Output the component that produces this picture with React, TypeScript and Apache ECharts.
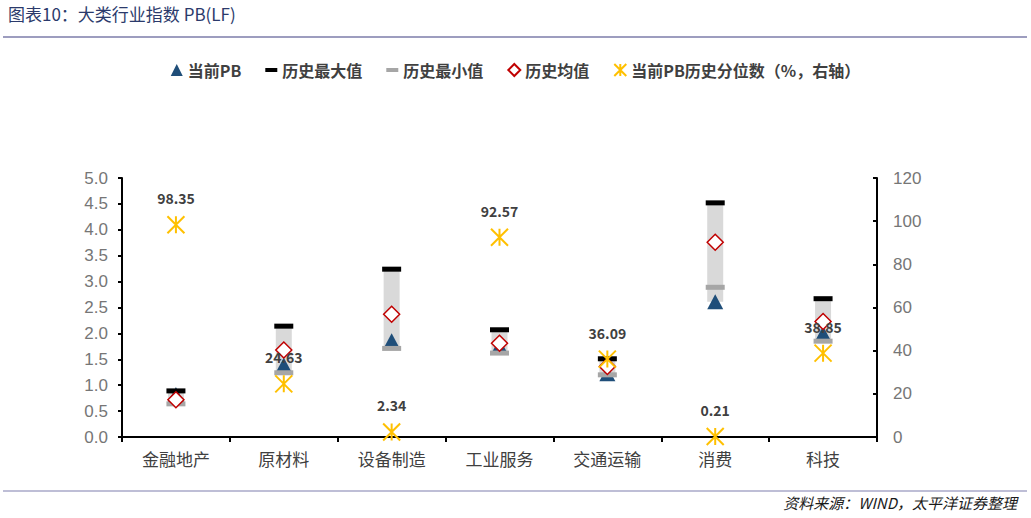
import React, { useEffect, useRef } from 'react';
import * as echarts from 'echarts';

const categories = ['金融地产', '原材料', '设备制造', '工业服务', '交通运输', '消费', '科技'];
const currentPB = [0.82, 1.39, 1.86, 1.76, 1.22, 2.61, 2.0];
const maxPB = [0.89, 2.14, 3.24, 2.07, 1.51, 4.52, 2.67];
const minPB = [0.64, 1.24, 1.71, 1.62, 1.2, 2.89, 1.85];
const meanPB = [0.72, 1.68, 2.37, 1.81, 1.36, 3.76, 2.23];
const percentile = [98.35, 24.63, 2.34, 92.57, 36.09, 0.21, 38.85];

const leftTicks = { min: 0, max: 5, interval: 0.5 };
const rightTicks = { min: 0, max: 120, interval: 20 };

const FONT = '"Noto Sans CJK SC", "Noto Sans", sans-serif';
const NUM_FONT = '"Liberation Sans", Arial, sans-serif';
const STAR = 'path://M0,0L20,20M20,0L0,20M10,0L10,20';
const DASH = 'path://M0,0M0,4h12v4h-12zM12,12';

const App: React.FC = () => {
  const chartRef = useRef<HTMLDivElement | null>(null);

  useEffect(() => {
    if (!chartRef.current) return;
    const chart = echarts.init(chartRef.current, null, { renderer: 'svg' });

    // gray range bar goes from the lowest of current/min up to the max
    const rangeLow = minPB.map((v, i) => Math.min(v, currentPB[i]));
    const rangeSpan = maxPB.map((v, i) => +(v - rangeLow[i]).toFixed(2));

    const option = {
      animation: false,
      backgroundColor: '#ffffff',
      textStyle: { fontFamily: FONT },
      graphic: [
        {
          type: 'text',
          left: 8,
          top: 5,
          style: { text: '图表10：大类行业指数 PB(LF)', fill: '#2b3a6b', fontSize: 17, fontFamily: FONT },
        },
        {
          type: 'line',
          shape: { x1: 3, y1: 37, x2: 1027, y2: 37 },
          style: { stroke: '#9d9dbf', lineWidth: 2 },
        },
        {
          type: 'line',
          shape: { x1: 3, y1: 491, x2: 1027, y2: 491 },
          style: { stroke: '#a8a8c8', lineWidth: 1.5 },
        },
        {
          type: 'text',
          right: 14,
          top: 495,
          style: {
            text: '资料来源：WIND，太平洋证券整理',
            fill: '#1a1a1a',
            fontSize: 15,
            fontStyle: 'italic',
            fontFamily: FONT,
          },
        },
      ],
      legend: {
        top: 57,
        left: 'center',
        itemWidth: 12,
        itemHeight: 12,
        itemGap: 24,
        textStyle: { color: '#404040', fontSize: 16, fontWeight: 'bold', fontFamily: FONT },
        data: [
          { name: '当前PB', icon: 'triangle' },
          { name: '历史最大值', icon: DASH },
          { name: '历史最小值', icon: DASH },
          { name: '历史均值', icon: 'diamond' },
          { name: '当前PB历史分位数（%，右轴）', icon: STAR },
        ],
      },
      grid: { left: 122, right: 154, top: 178, bottom: 81 },
      xAxis: {
        type: 'category',
        data: categories,
        axisLine: { lineStyle: { color: '#000', width: 2 } },
        axisTick: { show: true, length: 5, lineStyle: { color: '#000', width: 2 } },
        axisLabel: { color: '#404040', fontSize: 17, margin: 13, fontFamily: FONT },
      },
      yAxis: [
        {
          type: 'value',
          ...leftTicks,
          splitLine: { show: false },
          axisLine: { show: true, lineStyle: { color: '#000', width: 2 } },
          axisTick: { show: true, length: 4, lineStyle: { color: '#000', width: 2 } },
          axisLabel: {
            color: '#767676',
            fontSize: 17,
            margin: 14,
            fontFamily: NUM_FONT,
            formatter: (v: number) => v.toFixed(1),
          },
        },
        {
          type: 'value',
          ...rightTicks,
          position: 'right',
          splitLine: { show: false },
          axisLine: { show: true, lineStyle: { color: '#000', width: 2 } },
          axisTick: { show: true, inside: true, length: 4, lineStyle: { color: '#000', width: 2 } },
          axisLabel: {
            color: '#767676',
            fontSize: 17,
            margin: 16,
            fontFamily: NUM_FONT,
          },
        },
      ],
      series: [
        {
          name: 'rangeBase',
          type: 'bar',
          stack: 'range',
          barWidth: 16,
          silent: true,
          itemStyle: { color: 'transparent' },
          data: rangeLow,
        },
        {
          name: 'rangeSpan',
          type: 'bar',
          stack: 'range',
          barWidth: 16,
          silent: true,
          itemStyle: { color: '#d9d9d9' },
          data: rangeSpan,
        },
        {
          name: '当前PB',
          type: 'scatter',
          symbol: 'triangle',
          symbolSize: [16, 15],
          itemStyle: { color: '#1f4e79', opacity: 1 },
          data: currentPB,
        },
        {
          name: '历史最大值',
          type: 'scatter',
          symbol: 'rect',
          symbolSize: [19, 5],
          itemStyle: { color: '#000000', opacity: 1 },
          data: maxPB,
        },
        {
          name: '历史最小值',
          type: 'scatter',
          symbol: 'rect',
          symbolSize: [19, 5],
          itemStyle: { color: '#a6a6a6', opacity: 1 },
          data: minPB,
        },
        {
          name: '历史均值',
          type: 'scatter',
          symbol: 'diamond',
          symbolSize: [16, 16],
          itemStyle: { color: '#ffffff', borderColor: '#c00000', borderWidth: 1.5, opacity: 1 },
          data: meanPB,
        },
        {
          name: '当前PB历史分位数（%，右轴）',
          type: 'scatter',
          yAxisIndex: 1,
          symbol: STAR,
          symbolSize: 17,
          itemStyle: { color: '#ffc000', borderColor: '#ffc000', borderWidth: 2, opacity: 1 },
          label: {
            show: true,
            position: 'top',
            distance: 10,
            color: '#404040',
            fontSize: 14,
            fontWeight: 'bold',
            fontFamily: FONT,
            formatter: (p: any) => p.value.toFixed(2),
          },
          data: percentile,
        },
      ],
    };

    chart.setOption(option);
    return () => {
      chart.dispose();
    };
  }, []);

  return (
    <div
      ref={chartRef}
      style={{ position: 'fixed', left: 0, top: 0, width: '1031px', height: '518px' }}
    ></div>
  );
};

export default App;
